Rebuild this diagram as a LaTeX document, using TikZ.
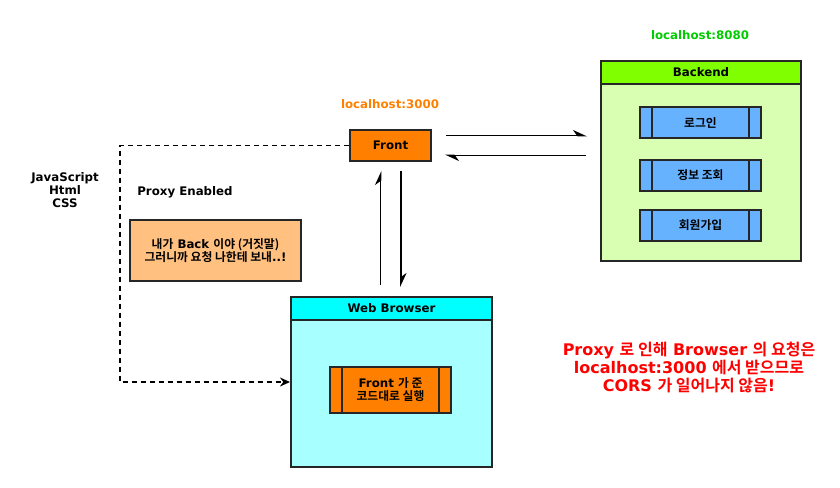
\documentclass[tikz,border=0pt]{standalone}
\usepackage{fontspec}
\setmainfont{DejaVu Sans}
\newfontfamily\krfont{Noto Sans CJK KR}[BoldFont={Noto Sans CJK KR Bold}]
\newcommand{\ko}[1]{{\krfont #1}}
\usetikzlibrary{arrows.meta}
\definecolor{bkhead}{HTML}{80FF00}
\definecolor{bkbody}{HTML}{D9FFB3}
\definecolor{bkitem}{HTML}{66B2FF}
\definecolor{frorange}{HTML}{FF8000}
\definecolor{notefill}{HTML}{FFC080}
\definecolor{brhead}{HTML}{00FFFF}
\definecolor{brbody}{HTML}{A8FFFF}
\definecolor{hostgreen}{HTML}{00CC00}
\definecolor{corsred}{HTML}{FF0000}

\begin{document}
\begin{tikzpicture}[x=1pt, y=-1pt,
  every node/.style={font=\bfseries\fontsize{11.8}{14}\selectfont},
  box/.style={draw=black!85, line width=2pt, inner sep=0pt},
  procbox/.style={box, minimum width=121pt, minimum height=31pt, align=center,
    path picture={\draw[line width=2pt, black!85]
      ([xshift=12pt]path picture bounding box.north west) -- ([xshift=12pt]path picture bounding box.south west)
      ([xshift=-12pt]path picture bounding box.north east) -- ([xshift=-12pt]path picture bounding box.south east);}},
  flow/.style={line width=1.8pt, -{Stealth[harpoon, length=12pt, width=11pt]}},
  link/.style={line width=1.8pt, dash pattern=on 5pt off 4pt, -{Stealth[length=10pt, width=9pt]}}]
\useasboundingbox (0,0) rectangle (840,487);

% backend
\node[text=hostgreen] (host8080) at (700,35) {localhost:8080};
\node[box, fill=bkbody, minimum width=200pt, minimum height=200pt, anchor=north west] (backend) at (600,60) {};
\node[box, fill=bkhead, minimum width=200pt, minimum height=23pt, anchor=north west] (backendhead) at (600,60) {Backend};
\foreach \nm/\txt/\y in {login/로그인/122.5, info/정보 조회/175.5, join/회원가입/225.5}
  \node[procbox, fill=bkitem] (\nm) at (700.5,\y) {\ko{\txt}};

% front
\node[text=frorange] (host3000) at (390,104) {localhost:3000};
\node[box, fill=frorange, minimum width=81pt, minimum height=31pt] (front) at (390.5,145.5) {Front};

% web browser
\node[box, fill=brbody, minimum width=201pt, minimum height=170pt, anchor=north west] (browser) at (290,296) {};
\node[box, fill=brhead, minimum width=201pt, minimum height=23pt, anchor=north west] (browserhead) at (290,296) {Web Browser};
\node[procbox, fill=frorange, minimum height=46pt] (runcode) at (390.5,390) {Front \ko{가 준}\\[-1pt]\ko{코드대로 실행}};

% texts
\node[align=center] (langs) at (65,190) {JavaScript\\[-1pt]Html\\[-1pt]CSS};
\node (proxy) at (185,192) {Proxy Enabled};
\node[box, fill=notefill, minimum width=171pt, minimum height=61pt, align=center] (note) at (215.5,250.5)
  {\ko{내가} Back \ko{이야 (거짓말)}\\[-1pt]\ko{그러니까 요청 나한테 보내}..!};
\node[text=corsred, align=center, font=\bfseries\fontsize{16}{18}\selectfont] (cors) at (689,367)
  {Proxy \ko{로 인해} Browser \ko{의 요청은}\\localhost:3000 \ko{에서 받으므로}\\CORS \ko{가 일어나지 않음}!};

% connectors
\coordinate (fr1) at ([yshift=10pt]front.east);
\coordinate (fr2) at ([yshift=-10pt]front.east);
\coordinate (fr3) at ([xshift=-10pt]front.south);
\coordinate (fr4) at ([xshift=10.5pt]front.south);
\draw[flow, shorten <=14pt, shorten >=13pt] (fr1) -- (fr1 -| backend.west);
\draw[flow, shorten <=14pt, shorten >=13pt] (fr2 -| backend.west) -- (fr2);
\draw[flow, shorten <=11pt, shorten >=9pt] (fr3 |- browserhead.north) -- (fr3);
\draw[flow, shorten <=9pt, shorten >=9pt] (fr4) -- (fr4 |- browserhead.north);
\draw[link] (front.west) -- ++(-229,0) coordinate (bend) |- (browser.west);
\end{tikzpicture}
\end{document}
